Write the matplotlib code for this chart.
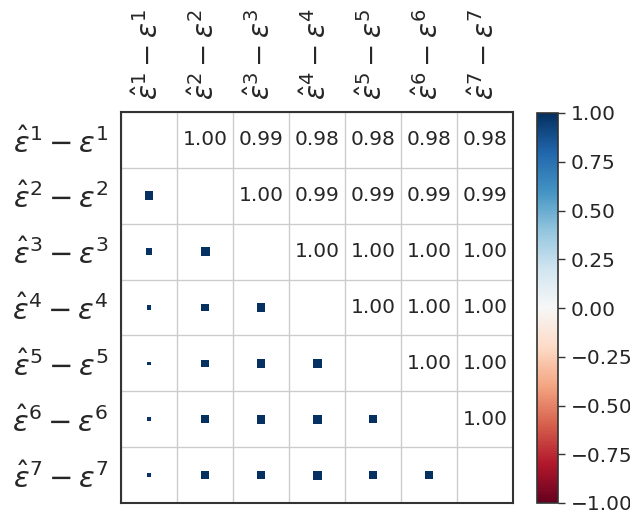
import numpy as np
import matplotlib
matplotlib.use("Agg")
import matplotlib.pyplot as plt
from matplotlib.colors import Normalize
from matplotlib.ticker import FuncFormatter

labels = [r"$\hat{\varepsilon}^{%d} - \varepsilon^{%d}$" % (i, i) for i in range(1, 8)]

# upper-triangle correlations (row i, columns i+1..7), estimated precision
corr_upper = [
    [0.997, 0.990, 0.983, 0.979, 0.979, 0.980],
    [0.998, 0.994, 0.993, 0.993, 0.993],
    [0.997, 0.997, 0.997, 0.997],
    [0.998, 0.998, 0.998],
    [0.996, 0.996],
    [0.996],
]
cbar_ticks = [-1.0, -0.75, -0.5, -0.25, 0.0, 0.25, 0.5, 0.75, 1.0]

n = len(labels)
C = np.eye(n)
for i, row in enumerate(corr_upper):
    for k, v in enumerate(row):
        j = i + 1 + k
        C[i, j] = v
        C[j, i] = v

plt.rcParams["text.color"] = "#262626"
plt.rcParams["xtick.color"] = "#262626"
plt.rcParams["ytick.color"] = "#262626"

fig = plt.figure(figsize=(6.3, 5.15), dpi=100)
W, H = 630, 515
ax = fig.add_axes([121 / W, (H - 503) / H, 392 / W, 391 / H])
cax = fig.add_axes([537 / W, (H - 503) / H, 21 / W, 390 / H])

cmap = plt.get_cmap("RdBu")
norm = Normalize(-1, 1)

# lower triangle squares
xs, ys, vals = [], [], []
for i in range(n):
    for j in range(i):
        xs.append(j)
        ys.append(i)
        vals.append(C[i, j])
vals = np.array(vals)
rmin, rmax = 0.979, 0.998
side_px = 3.5 + (vals - rmin) / (rmax - rmin) * (9.0 - 3.5)
side_pt = side_px * 72 / 100
ax.scatter(xs, ys, c=vals, cmap=cmap, norm=norm, marker="s", s=side_pt ** 2,
           linewidths=0, zorder=3)

# upper triangle text
for i in range(n):
    for j in range(i + 1, n):
        ax.text(j, i, "%.2f" % C[i, j], ha="center", va="center", fontsize=14.5,
                color="#262626")

ax.set_xlim(-0.5, n - 0.5)
ax.set_ylim(n - 0.5, -0.5)
ax.set_xticks(range(n))
ax.set_yticks(range(n))
ax.set_xticklabels(labels, rotation=90, fontsize=20)
ax.set_yticklabels(labels, fontsize=21)
ax.xaxis.tick_top()
ax.tick_params(length=0, pad=9)
ax.set_xticks(np.arange(-0.5, n, 1), minor=True)
ax.set_yticks(np.arange(-0.5, n, 1), minor=True)
ax.tick_params(which="minor", length=0)
ax.grid(which="minor", color="#cccccc", linewidth=1)
ax.grid(which="major", visible=False)
for s in ax.spines.values():
    s.set_color("#333333")
    s.set_linewidth(1.5)

sm = matplotlib.cm.ScalarMappable(norm=norm, cmap=cmap)
cb = fig.colorbar(sm, cax=cax, ticks=cbar_ticks,
                  format=FuncFormatter(lambda v, p: ("%.2f" % v).replace("-", "\u2212")))
cb.ax.tick_params(labelsize=14.5, length=5, width=1, color="#333333", pad=4)
cb.outline.set_edgecolor("#333333")
cb.outline.set_linewidth(1.2)

fig.savefig("out.png", dpi=100)
